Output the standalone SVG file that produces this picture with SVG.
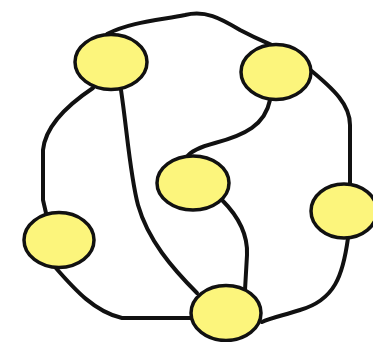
<svg xmlns="http://www.w3.org/2000/svg" width="373" height="342" viewBox="0 0 373 342">
<style>
.e{fill:none;stroke:#111;stroke-width:4;stroke-linecap:round;stroke-linejoin:round}
.n{fill:#fcf57c;stroke:#111;stroke-width:3.5}
</style>
<rect width="373" height="342" fill="#fff"/>
<g id="edges">
<path class="e" d="M107,34 C130,22 160,20 185,15 C205,10 220,18 240,30 C255,38 265,42 272,45"/>
<path class="e" d="M308,68 C335,90 350,105 350,125 L350,185"/>
<path class="e" d="M270,100 C265,125 245,135 215,143 C200,147 190,152 187,157"/>
<path class="e" d="M93,88 C60,110 45,130 43,150 L43,200 L46,213"/>
<path class="e" d="M121,90 C127,130 130,175 138,205 C148,240 172,268 197,293"/>
<path class="e" d="M222,200 C240,218 248,235 247,255 L245,290"/>
<path class="e" d="M55,267 C75,290 95,312 122,318 L193,318"/>
<path class="e" d="M348,238 C343,275 335,300 300,310 C285,315 270,318 262,322"/>
</g>
<g id="node-tl"><ellipse class="n" cx="111" cy="62" rx="36" ry="27.5"/></g>
<g id="node-tr"><ellipse class="n" cx="276" cy="72" rx="35" ry="27.5"/></g>
<g id="node-m"><ellipse class="n" cx="193" cy="183" rx="36" ry="27"/></g>
<g id="node-r"><ellipse class="n" cx="344" cy="211" rx="33" ry="27"/></g>
<g id="node-l"><ellipse class="n" cx="59" cy="240" rx="35" ry="27.5"/></g>
<g id="node-b"><ellipse class="n" cx="226" cy="313" rx="35" ry="27.5"/></g>
</svg>
